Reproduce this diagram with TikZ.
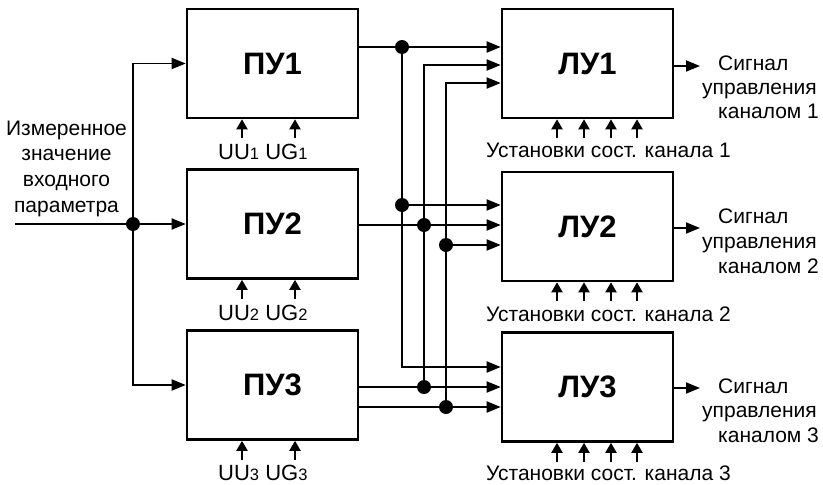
\documentclass[tikz,border=0pt]{standalone}
\usepackage{fontspec}
\setmainfont{Liberation Sans}
\usetikzlibrary{arrows.meta}
\newcommand\smd[1]{{\fontsize{16.5}{16.5}\selectfont #1}}
\begin{document}
\begin{tikzpicture}[x=1pt,y=-1pt,
 box/.style={draw,line width=2.6pt,minimum width=171pt,minimum height=109pt,inner sep=0pt,font=\fontsize{31}{31}\selectfont\bfseries},
 wire/.style={line width=1.8pt},
 arr/.style={wire,-{Triangle[length=14pt,width=11pt]}},
 sarr/.style={line width=2pt,-{Triangle[length=10pt,width=11pt]}},
 dot/.style={circle,fill,inner sep=0pt,minimum size=14pt},
 lbl/.style={inner sep=0pt,font=\fontsize{21}{24}\selectfont},
 ulbl/.style={inner sep=0pt,font=\fontsize{22}{24}\selectfont},
]
\useasboundingbox (0,0) rectangle (823,485);
% boxes
\node[box] (p1) at (272.5,63.5) {ПУ1};
\node[box] (p2) at (272.5,224) {ПУ2};
\node[box] (p3) at (272.5,385) {ПУ3};
\node[box] (l1) at (587.5,63.5) {ЛУ1};
\node[box] (l2) at (587.5,226.5) {ЛУ2};
\node[box] (l3) at (587.5,387) {ЛУ3};
% input
\coordinate (in) at (15,224);
\coordinate (j0) at (133,224);
\draw[wire] (in) -- (j0);
\draw[arr] (j0) |- (p1.west);
\draw[arr] (j0) |- (p3.west);
\draw[arr] (j0) -- (p2.west);
\node[dot] (dj0) at (j0) {};
% bus
\coordinate (a1) at (402,47);
\coordinate (a2) at (402,205);
\coordinate (a3) at (402,367);
\coordinate (b1) at (424,65);
\coordinate (b2) at (424,225);
\coordinate (b3) at (424,387);
\coordinate (c1) at (446,83);
\coordinate (c2) at (446,245);
\coordinate (c3) at (446,407);
\draw[arr] (p1.east |- a1) -- (l1.west |- a1);
\draw[arr] (a1) |- (l3.west |- a3);
\draw[arr] (a2) -- (l2.west |- a2);
\draw[arr] (b3) |- (l1.west |- b1);
\draw[arr] (p2.east |- b2) -- (l2.west |- b2);
\draw[arr] (p3.east |- b3) -- (l3.west |- b3);
\draw[arr] (c3) |- (l1.west |- c1);
\draw[arr] (c2) -- (l2.west |- c2);
\draw[arr] (p3.east |- c3) -- (l3.west |- c3);
\foreach \c in {a1,a2,b2,b3,c2,c3}{\node[dot] (d\c) at (\c) {};}
% outputs
\coordinate (o1) at (700,66);
\coordinate (o2) at (700,228);
\coordinate (o3) at (700,388);
\draw[arr] (l1.east |- o1) -- (o1);
\draw[arr] (l2.east |- o2) -- (o2);
\draw[arr] (l3.east |- o3) -- (o3);
% small arrows
\foreach \n in {p1,p2,p3}{\foreach \dx in {-30.5,22.5}{\draw[sarr] (\n.south) ++(\dx,19) -- ++(0,-19);}}
\foreach \n in {l1,l2,l3}{\foreach \dx in {-30.5,-3.5,23.5,49.5}{\draw[sarr] (\n.south) ++(\dx,19) -- ++(0,-19);}}
% labels
\node[lbl,anchor=base] (t1) at (66.5,135) {Измеренное};
\node[lbl,anchor=base] (t2) at (66.5,160) {значение};
\node[lbl,anchor=base] (t3) at (66.5,186) {входного};
\node[lbl,anchor=base] (t4) at (66.5,212) {параметра};
\node[ulbl,anchor=base west] (u1) at (218,159) {UU\smd{1} UG\smd{1}};
\node[ulbl,anchor=base west] (u2) at (218,320) {UU\smd{2} UG\smd{2}};
\node[ulbl,anchor=base west] (u3) at (218,480) {UU\smd{3} UG\smd{3}};
\node[lbl,anchor=base west] (s1) at (486,157) {Установки сост. канала 1};
\node[lbl,anchor=base west] (s2) at (486,321) {Установки сост. канала 2};
\node[lbl,anchor=base west] (s3) at (486,480) {Установки сост. канала 3};
\node[lbl,anchor=base west] (r1a) at (718,70) {Сигнал};
\node[lbl,anchor=base west] (r1b) at (702,94) {управления};
\node[lbl,anchor=base west] (r1c) at (718,118) {каналом 1};
\node[lbl,anchor=base west] (r2a) at (718,223) {Сигнал};
\node[lbl,anchor=base west] (r2b) at (702,248) {управления};
\node[lbl,anchor=base west] (r2c) at (718,273) {каналом 2};
\node[lbl,anchor=base west] (r3a) at (718,393) {Сигнал};
\node[lbl,anchor=base west] (r3b) at (702,417) {управления};
\node[lbl,anchor=base west] (r3c) at (718,442) {каналом 3};
\end{tikzpicture}
\end{document}
